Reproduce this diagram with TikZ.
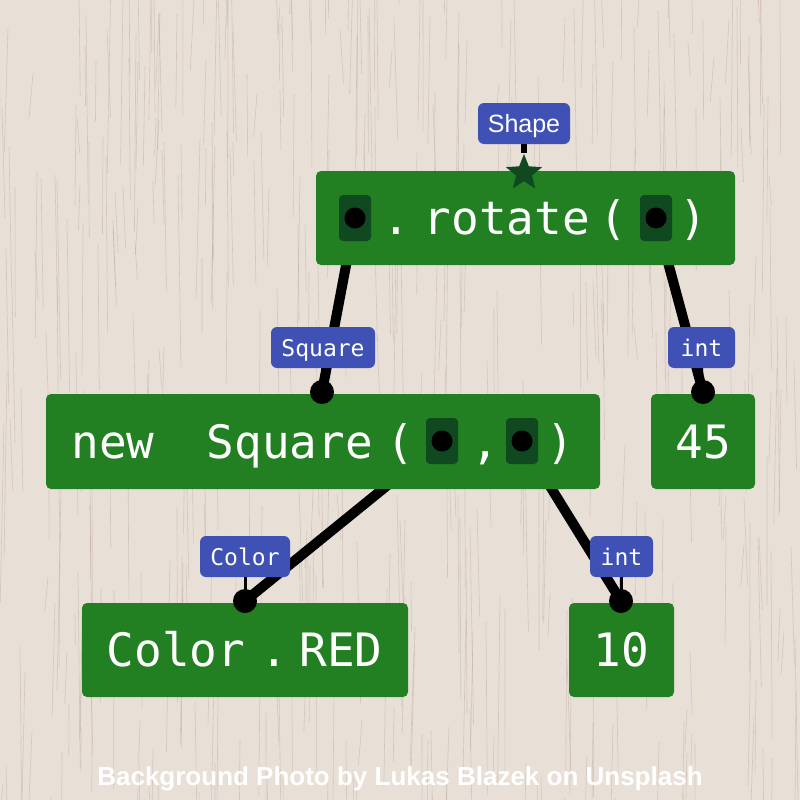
\documentclass[tikz,border=0pt]{standalone}
\usepackage{fontspec}
\setmonofont{DejaVu Sans Mono}
\setsansfont{Liberation Sans}
\usetikzlibrary{shapes.geometric}
\definecolor{woodbg}{RGB}{232,223,215}
\definecolor{woodline}{RGB}{170,138,128}
\definecolor{blockgreen}{RGB}{34,128,34}
\definecolor{slotgreen}{RGB}{16,72,32}
\definecolor{labelblue}{RGB}{63,81,181}
\tikzset{
  block/.style={fill=blockgreen, rounded corners=5pt, inner sep=0pt},
  token/.style={text=white, font=\fontsize{46}{50}\selectfont\ttfamily, anchor=base, inner sep=0pt},
  slot/.style={fill=slotgreen, rounded corners=4pt, minimum width=32pt, minimum height=46pt, inner sep=0pt},
  hole/.style={circle, fill=black, minimum size=21pt, inner sep=0pt},
  socket/.style={circle, fill=black, minimum size=24pt, inner sep=0pt},
  typelab/.style={fill=labelblue, text=white, rounded corners=6pt, minimum height=41pt, inner sep=0pt,
    text height=18pt, text depth=1pt, font=\fontsize{23}{26}\selectfont\ttfamily},
  edge/.style={line width=10pt, black},
  tether/.style={line width=3pt, black},
  streak/.style={woodline, line width=0.6pt, opacity=0.3}
}
\begin{document}
\begin{tikzpicture}[x=1pt, y=-1pt]
    % Wood background
    \useasboundingbox (0,0) rectangle (800,800);
    \fill[woodbg] (0,0) rectangle (800,800);
    \pgfmathsetseed{11}
    \foreach \i in {1,...,450}{
        \pgfmathsetmacro\sx{random(0,800)}
        \pgfmathsetmacro\sy{random(-100,800)}
        \pgfmathsetmacro\sl{random(30,200)}
        \draw[streak] (\sx,\sy) -- ++(rand*4,\sl);
    }

    % Sockets and slots
    \coordinate (rotslota) at (355,218);
    \coordinate (rotslotb) at (656,218);
    \coordinate (sqslota) at (442,441);
    \coordinate (sqslotb) at (522,441);
    \coordinate (squaredot) at (322,392);
    \coordinate (fivedot) at (703,392);
    \coordinate (reddot) at (245,601);
    \coordinate (tendot) at (621,601);

    % Draw edges
    \draw[edge] (rotslota) -- (squaredot);
    \draw[edge] (rotslotb) -- (fivedot);
    \draw[edge] (sqslota) -- (reddot);
    \draw[edge] (sqslotb) -- (tendot);

    % Blocks
    \node[block, minimum width=419pt, minimum height=94pt] (rotnode) at (525.5,218) {};
    \node[block, minimum width=554pt, minimum height=95pt] (squarenode) at (323,441.5) {};
    \node[block, minimum width=104pt, minimum height=95pt] (fortyfive) at (703,441.5) {};
    \node[block, minimum width=326pt, minimum height=94pt] (colorred) at (245,650) {};
    \node[block, minimum width=105pt, minimum height=94pt] (ten) at (621.5,650) {};

    % Tokens
    \node[token] (rotdot) at (396,234) {.};
    \node[token] (rotname) at (507,234) {rotate};
    \node[token] (rotopen) at (613,234) {(};
    \node[token] (rotclose) at (693,234) {)};
    \node[token] (sqnew) at (113,458) {new};
    \node[token] (sqname) at (290,458) {Square};
    \node[token] (sqopen) at (400,458) {(};
    \node[token] (sqcomma) at (485,458) {,};
    \node[token] (sqclose) at (560,458) {)};
    \node[token] (fivetext) at (703,458) {45};
    \node[token] (colorname) at (176,666) {Color};
    \node[token] (colordot) at (274,666) {.};
    \node[token] (redname) at (341,666) {RED};
    \node[token] (tentext) at (621.5,666) {10};

    \foreach \s in {rotslota, rotslotb, sqslota, sqslotb}{
        \node[slot] at (\s) {};
        \node[hole] at (\s) {};
    }
    \foreach \d in {squaredot, fivedot, reddot, tendot}
        \node[socket] at (\d) {};

    % Type labels
    \node[star, star points=5, star point ratio=2.3, minimum size=38pt, inner sep=0pt, fill=slotgreen] (rotstar) at (524,173) {};
    \node[typelab, minimum width=92pt, font=\fontsize{25}{28}\selectfont\sffamily] (shapelab) at (524,123.5) {Shape};
    \node[typelab, minimum width=104pt] (squarelab) at (323,347.5) {Square};
    \node[typelab, minimum width=67pt] (intlaba) at (701.5,347.5) {int};
    \node[typelab, minimum width=90pt] (colorlab) at (245,556.5) {Color};
    \node[typelab, minimum width=63pt] (intlabb) at (621.5,556.5) {int};
    \draw[line width=6pt] (shapelab.south) -- (rotstar.north);
    \draw[tether] (squarelab.south) -- (squaredot);
    \draw[tether] (intlaba.south) -- (fivedot);
    \draw[tether] (colorlab.south) -- (reddot);
    \draw[tether] (intlabb.south) -- (tendot);

    \node[text=white, font=\fontsize{26}{29}\selectfont\sffamily\bfseries] (credit) at (400,779)
        {Background Photo by Lukas Blazek on Unsplash};
\end{tikzpicture}
\end{document}
